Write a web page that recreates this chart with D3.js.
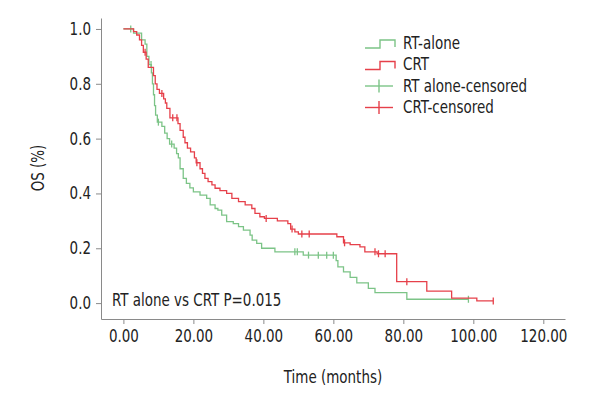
<!DOCTYPE html>
<html><head><meta charset="utf-8">
<script src="https://cdn.jsdelivr.net/npm/d3@7/dist/d3.min.js"></script>
<style>
body{margin:0;background:#fff;}
text{font-family:"Liberation Sans Narrow","Arial Narrow","DejaVu Sans Condensed",sans-serif;fill:#222;}
</style></head>
<body><svg id="chart" width="600" height="400"></svg>
<script>
const rtTimes = [2.9,5.2,6.2,6.7,7.3,8.0,8.3,8.6,8.9,9.2,9.7,11.0,11.8,12.5,13.2,14.5,15.2,15.7,16.2,17.1,18.0,19.0,20.0,21.9,23.8,24.8,26.2,27.0,28.1,29.5,31.4,32.9,34.3,36.2,36.8,38.1,39.5,43.3,51.4,60.8,61.3,62.9,64.8,66.7,70.0,71.9,81.0];
const rtSurv  = [0.985,0.96,0.945,0.90,0.87,0.84,0.80,0.76,0.72,0.686,0.66,0.645,0.62,0.60,0.58,0.565,0.545,0.53,0.49,0.455,0.437,0.42,0.406,0.394,0.382,0.358,0.345,0.339,0.321,0.297,0.29,0.279,0.266,0.248,0.23,0.218,0.2,0.187,0.175,0.155,0.132,0.114,0.094,0.074,0.054,0.038,0.014];
const rtCensored = [2.1,7.9,10.0,13.8,49.0,49.7,52.9,55.7,58.1,60.0,98.6];

const crtTimes = [2.9,3.8,4.6,5.2,5.7,6.5,7.1,8.6,9.1,9.6,10.3,11.5,12.0,12.4,13.3,15.6,16.2,17.1,17.6,18.3,19.2,20.3,20.8,21.9,22.6,23.3,24.2,25.3,26.2,27.6,29.5,31.0,32.9,34.8,36.7,37.6,39.0,40.3,44.0,47.0,47.8,49.0,50.0,61.0,62.9,64.8,67.6,69.0,72.5,78.1,86.7,93.8,101.0];
const crtSurv  = [0.99,0.978,0.96,0.94,0.915,0.89,0.86,0.83,0.80,0.78,0.765,0.745,0.73,0.71,0.676,0.655,0.63,0.605,0.585,0.565,0.552,0.53,0.512,0.49,0.473,0.455,0.443,0.431,0.419,0.41,0.40,0.382,0.37,0.358,0.345,0.327,0.315,0.309,0.30,0.29,0.27,0.26,0.252,0.242,0.22,0.213,0.205,0.187,0.18,0.078,0.044,0.018,0.008];
const crtCensored = [6.2,11.0,14.1,15.3,21.0,40.8,48.2,51.0,53.1,63.2,71.9,72.9,74.8,81.0,105.7];

const xTicks = [0,20,40,60,80,100,120];
const yTicks = [0,0.2,0.4,0.6,0.8,1.0];
const legendLabels = ["RT-alone","CRT","RT alone-censored","CRT-censored"];
const pText = "RT alone vs CRT P=0.015";

const green = "#7cc487", red = "#e6404a", axisCol = "#8a8a8a";
const svg = d3.select("#chart");
const x = d3.scaleLinear().domain([-6.4,126.2]).range([101,565]);
const y = d3.scaleLinear().domain([-0.058,1.04]).range([319,18]);

// axes
const xAxis = svg.append("g").attr("transform","translate(0,319)")
  .call(d3.axisBottom(x).tickValues(xTicks).tickFormat(d3.format(".2f")).tickSizeInner(5).tickSizeOuter(0).tickPadding(6));
const yAxis = svg.append("g").attr("transform","translate(101,0)")
  .call(d3.axisLeft(y).tickValues(yTicks).tickFormat(d3.format(".1f")).tickSizeInner(5).tickSizeOuter(0).tickPadding(5));
[xAxis,yAxis].forEach(a=>{
  a.selectAll("path,line").attr("stroke",axisCol);
  a.selectAll("text").style("font-size","17px").attr("fill","#222");
});

svg.append("text").attr("x",333).attr("y",383).attr("text-anchor","middle").style("font-size","17px").text("Time (months)");
svg.append("text").attr("transform","translate(44,168) rotate(-90)").attr("text-anchor","middle").style("font-size","17px").text("OS (%)");
svg.append("text").attr("x",112).attr("y",306).style("font-size","17px").text(pText);

function survAt(times, surv, t){ const i = d3.bisectRight(times,t); return i===0?1:surv[i-1]; }
function drawCurve(times, surv, cens, col){
  const end = Math.max(d3.max(times), d3.max(cens));
  const pts = [[0,1]].concat(times.map((t,i)=>[t,surv[i]]));
  pts.push([end, surv[surv.length-1]]);
  const line = d3.line().x(d=>x(d[0])).y(d=>y(d[1])).curve(d3.curveStepAfter);
  svg.append("path").attr("d",line(pts)).attr("fill","none").attr("stroke",col).attr("stroke-width",1.3);
  svg.append("g").selectAll("line").data(cens).join("line")
    .attr("x1",d=>x(d)).attr("x2",d=>x(d))
    .attr("y1",d=>y(survAt(times,surv,d))-3.5).attr("y2",d=>y(survAt(times,surv,d))+3.5)
    .attr("stroke",col).attr("stroke-width",1.3);
}
drawCurve(rtTimes, rtSurv, rtCensored, green);
drawCurve(crtTimes, crtSurv, crtCensored, red);

// legend
const lg = svg.append("g");
const rowsY = [43,64.5,86,107.5];
const cols = [green, red, green, red];
legendLabels.forEach((lab,i)=>{
  const cy = rowsY[i], c = cols[i];
  if(i<2){
    lg.append("path").attr("d",`M365,${cy+5}H380V${cy-3}H395V${cy+4}`).attr("fill","none").attr("stroke",c).attr("stroke-width",1.4);
  } else {
    lg.append("line").attr("x1",365).attr("x2",393).attr("y1",cy).attr("y2",cy).attr("stroke",c).attr("stroke-width",1.4);
    lg.append("line").attr("x1",379).attr("x2",379).attr("y1",cy-6.5).attr("y2",cy+6.5).attr("stroke",c).attr("stroke-width",1.4);
  }
  lg.append("text").attr("x",403).attr("y",cy).attr("dy","0.35em").style("font-size","17px").text(lab);
});

// narrow the condensed font to match the reference's narrower face
svg.selectAll("text").each(function(){
  const len = this.getComputedTextLength();
  d3.select(this).attr("textLength", len*0.88).attr("lengthAdjust","spacingAndGlyphs");
});
</script></body></html>
